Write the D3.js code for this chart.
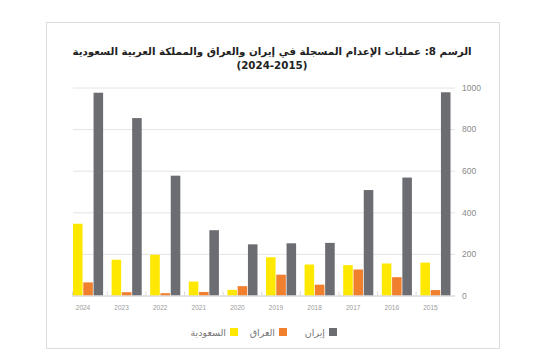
<!DOCTYPE html>
<html>
<head>
<meta charset="utf-8">
<script src="https://cdn.jsdelivr.net/npm/d3@7"></script>
<style>
  body { margin: 0; background: #fff; }
  svg { display: block; }
</style>
</head>
<body>
<script>
  // data (years run right-to-left)
  const years = ["2024", "2023", "2022", "2021", "2020", "2019", "2018", "2017", "2016", "2015"];
  const saudi = [345, 172, 196, 67, 27, 184, 149, 146, 154, 158];
  const iraq = [63, 16, 11, 17, 45, 100, 52, 125, 88, 26];
  const iran = [975, 853, 576, 314, 246, 251, 253, 507, 567, 977];
  const yTicks = [0, 200, 400, 600, 800, 1000];
  const seriesNames = ["السعودية", "العراق", "إيران"];
  const seriesColors = ["#ffe800", "#f07f2e", "#6c6d72"];
  const titleLines = ["الرسم 8: عمليات الإعدام المسجلة في إيران والعراق والمملكة العربية السعودية", "(2024-2015)"];

  const W = 533, H = 364;
  const plot = { left: 73, right: 455, top: 87.5, bottom: 295.5 };

  const svg = d3.select("body").append("svg")
    .attr("width", W)
    .attr("height", H);

  // card
  svg.append("rect")
    .attr("x", 46.5).attr("y", 22.5)
    .attr("width", 453).attr("height", 326)
    .attr("fill", "#fff")
    .attr("stroke", "#dcdcdc")
    .attr("stroke-width", 1);

  // title, sized so the first line is about as wide as in the picture
  const title = svg.append("text")
    .attr("text-anchor", "middle")
    .attr("font-family", "'DejaVu Sans', sans-serif")
    .attr("font-weight", 700)
    .attr("font-size", 12)
    .attr("fill", "#222");
  title.selectAll("tspan")
    .data(titleLines)
    .enter()
    .append("tspan")
    .attr("x", 272)
    .attr("y", (d, i) => 55 + i * 14)
    .attr("direction", "rtl")
    .text((d) => d);

  const firstLine = title.select("tspan").node().getComputedTextLength();
  if (firstLine > 0) title.attr("font-size", 12 * 400 / firstLine);

  const x = d3.scaleBand()
    .domain(years)
    .range([plot.left, plot.left + 38.6 * 9.78])
    .paddingInner(0.22)
    .paddingOuter(0);

  const xs = d3.scaleBand()
    .domain([0, 1, 2])
    .range([0, x.bandwidth()])
    .paddingInner(0.07);

  const y = d3.scaleLinear()
    .domain([0, 1000])
    .range([plot.bottom, plot.top]);

  // gridlines + right axis
  const yAxis = d3.axisRight(y)
    .tickValues(yTicks)
    .tickFormat(d3.format("d"))
    .tickSize(-(plot.right - plot.left))
    .tickPadding(7);

  const gy = svg.append("g")
    .attr("transform", `translate(${plot.right},0)`)
    .call(yAxis);
  gy.select(".domain").remove();
  gy.selectAll(".tick line")
    .attr("stroke", "#e4e4e4")
    .attr("stroke-width", 1);
  gy.selectAll(".tick text")
    .attr("fill", "#8a8a8a")
    .attr("font-family", "'Liberation Sans', Arial, sans-serif")
    .attr("font-size", 8.5);

  // bars
  const groups = svg.append("g")
    .selectAll("g")
    .data(years)
    .enter()
    .append("g")
    .attr("transform", (d) => `translate(${x(d)},0)`);

  const seriesData = [saudi, iraq, iran];
  groups.selectAll("rect")
    .data((d, i) => seriesData.map((s, k) => ({ k, v: s[i] })))
    .enter()
    .append("rect")
    .attr("x", (d) => xs(d.k))
    .attr("width", xs.bandwidth())
    .attr("y", (d) => y(d.v))
    .attr("height", (d) => y(0) - y(d.v))
    .attr("fill", (d) => seriesColors[d.k]);

  // baseline with small separators
  svg.append("line")
    .attr("x1", plot.left - 1).attr("x2", plot.right)
    .attr("y1", y(0) + 0.5).attr("y2", y(0) + 0.5)
    .attr("stroke", "#d8d8d8");

  const sep = years.map((d) => x(d) - (x.step() - x.bandwidth()) / 2);
  sep[0] = plot.left - 0.5;
  svg.append("g")
    .selectAll("line")
    .data(sep)
    .enter()
    .append("line")
    .attr("x1", (d) => d).attr("x2", (d) => d)
    .attr("y1", y(0) - 4).attr("y2", y(0))
    .attr("stroke", "#d8d8d8");

  // year labels
  svg.append("g")
    .selectAll("text")
    .data(years)
    .enter()
    .append("text")
    .attr("x", (d) => x(d) + 10)
    .attr("y", 310)
    .attr("text-anchor", "middle")
    .attr("font-family", "'Liberation Sans', Arial, sans-serif")
    .attr("font-size", 6.5)
    .attr("fill", "#9a9a9a")
    .text((d) => d);

  // legend (right to left)
  const legendX = [337, 287, 238];
  const legend = svg.append("g")
    .selectAll("g")
    .data([2, 1, 0])
    .enter()
    .append("g")
    .attr("transform", (d, i) => `translate(${legendX[i]},332)`);

  legend.append("rect")
    .attr("x", -8).attr("y", -4)
    .attr("width", 8).attr("height", 8)
    .attr("fill", (d) => seriesColors[d]);

  legend.append("text")
    .attr("x", -12)
    .attr("y", 3.5)
    .attr("text-anchor", "end")
    .attr("font-family", "'DejaVu Sans', sans-serif")
    .attr("font-size", 9.5)
    .attr("fill", "#777")
    .text((d) => seriesNames[d]);
</script>
</body>
</html>
